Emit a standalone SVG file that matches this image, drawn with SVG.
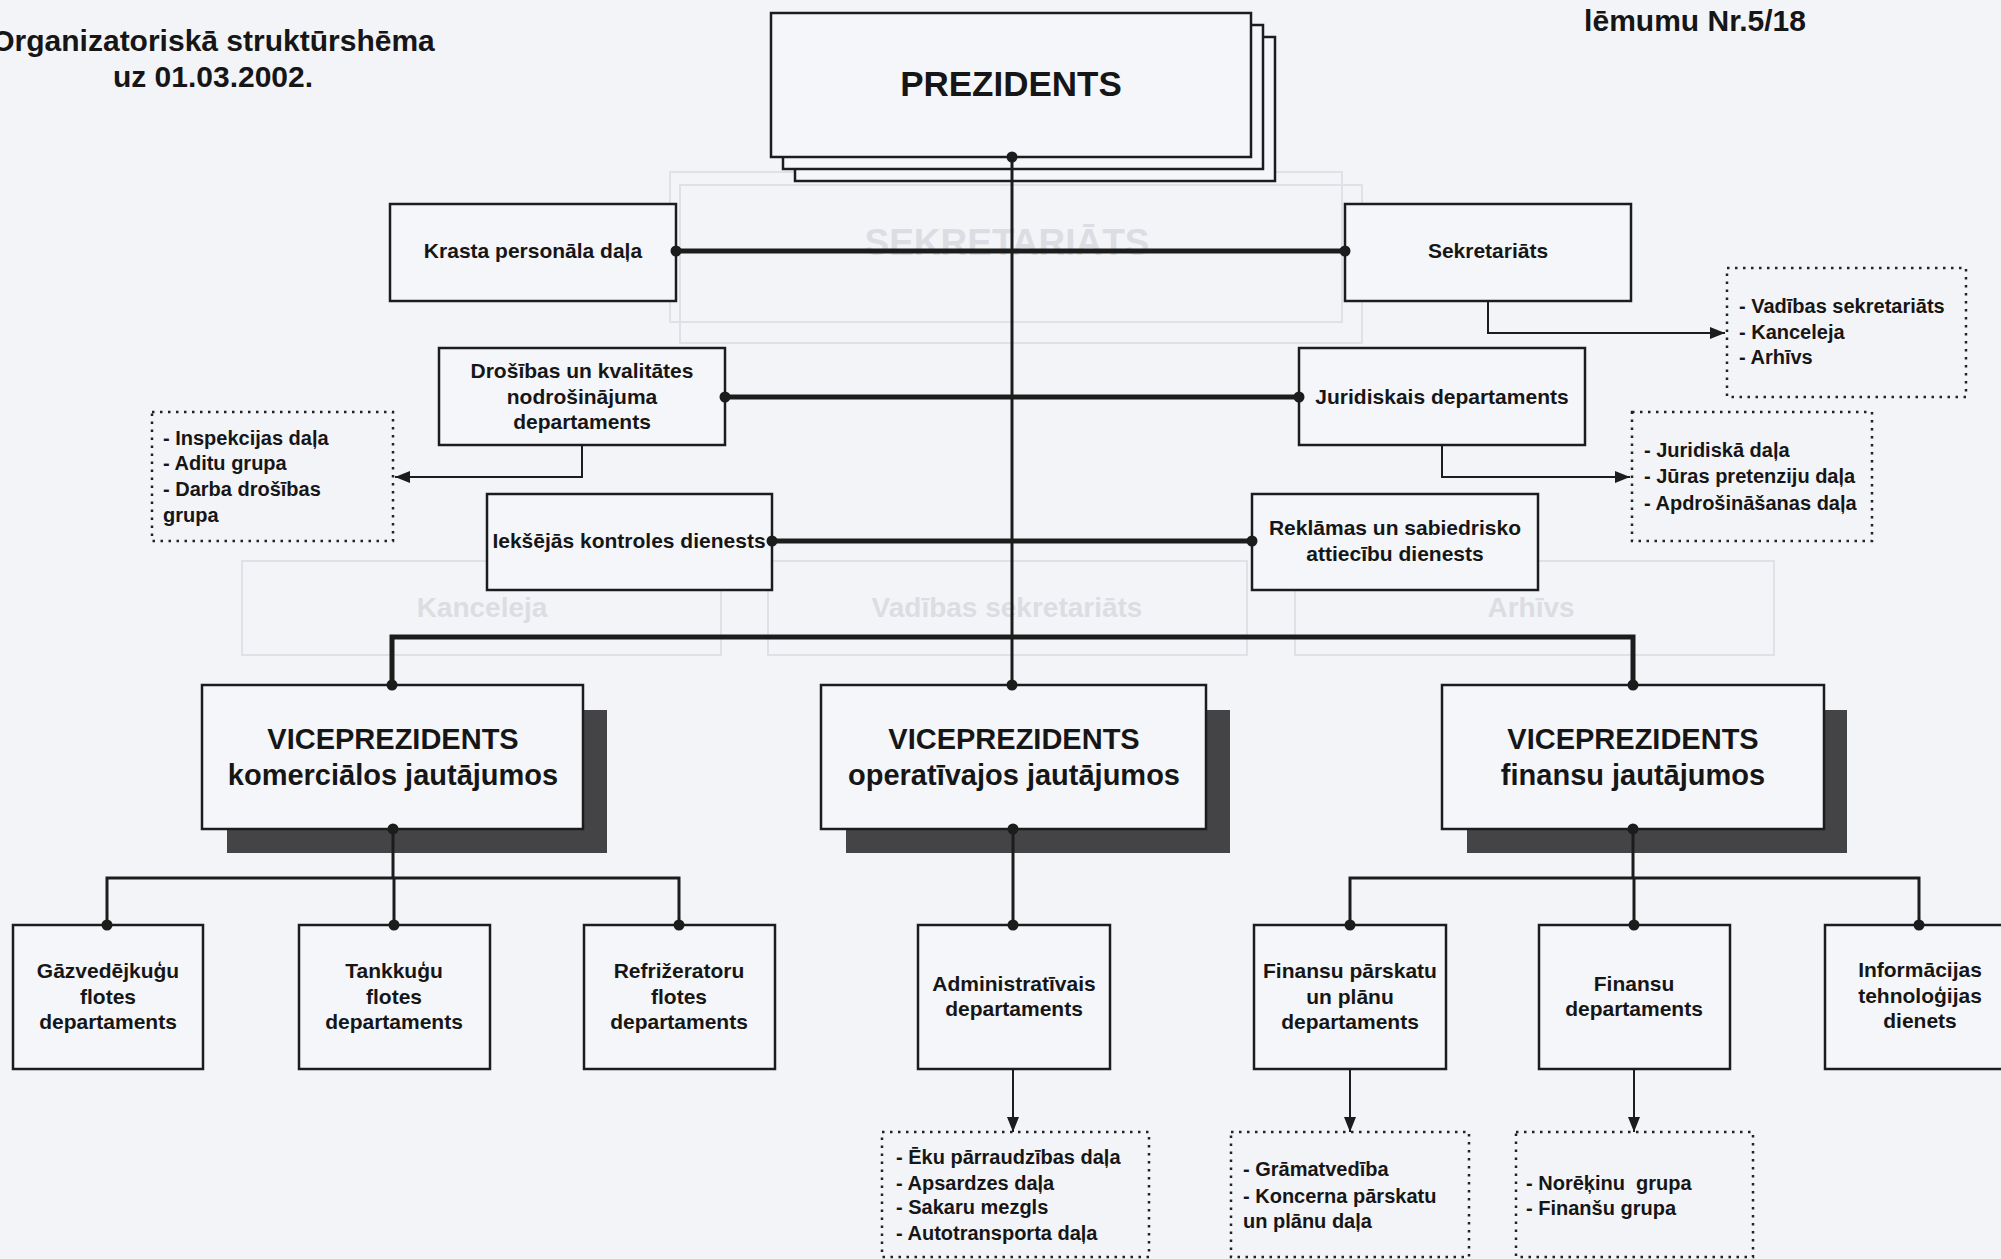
<svg xmlns="http://www.w3.org/2000/svg" width="2001" height="1259" viewBox="0 0 2001 1259">
<defs>
<style>
.bg{fill:#f3f4f8}
.box{fill:#f5f6fa;stroke:#1c1c1c;stroke-width:2.5}
.sh{fill:#444446}
.t{font-family:"Liberation Sans",Arial,sans-serif;font-weight:bold;fill:#161616}
.c{text-anchor:middle}
.f21{font-size:21px}
.f20{font-size:20px}
.f29{font-size:29px}
.dbox{fill:none;stroke:#222;stroke-width:2.5;stroke-dasharray:2.5 5.5}
.ln{stroke:#1c1c1c;fill:none}
.w5{stroke-width:5}
.w3{stroke-width:3}
.w2{stroke-width:2}
.dot{fill:#1c1c1c}
.gh{fill:none;stroke:#e0e1e6;stroke-width:2}
.ght{font-family:"Liberation Sans",Arial,sans-serif;font-weight:bold;fill:#dcdde2;text-anchor:middle}
</style>
<marker id="arr" viewBox="0 0 10 10" refX="10" refY="5" markerWidth="15" markerHeight="12" markerUnits="userSpaceOnUse" orient="auto" preserveAspectRatio="none">
<path d="M0,0 L10,5 L0,10 z" fill="#1c1c1c"/>
</marker>
</defs>
<rect class="bg" x="0" y="0" width="2001" height="1259"/>

<g id="show-through">
<rect class="gh" x="670" y="172" width="672" height="150"/>
<rect class="gh" x="680" y="185" width="682" height="158"/>
<text class="ght" x="1007" y="255" font-size="37">SEKRETARIĀTS</text>
<rect class="gh" x="242" y="561" width="479" height="94"/>
<rect class="gh" x="768" y="561" width="479" height="94"/>
<rect class="gh" x="1295" y="561" width="479" height="94"/>
<text class="ght" x="482" y="617" font-size="28">Kanceleja</text>
<text class="ght" x="1007" y="617" font-size="28">Vadības sekretariāts</text>
<text class="ght" x="1531" y="617" font-size="28">Arhīvs</text>
</g>

<g id="titles">
<text class="t c" x="213" y="51" font-size="30">Organizatoriskā struktūrshēma</text>
<text class="t c" x="213" y="87" font-size="30">uz 01.03.2002.</text>
<text class="t c" x="1695" y="31" font-size="30">lēmumu Nr.5/18</text>
</g>

<g id="prezidents">
<rect class="box" x="795" y="37" width="480" height="144"/>
<rect class="box" x="783" y="25" width="480" height="144"/>
<rect class="box" x="771" y="13" width="480" height="144"/>
<text class="t c" x="1011" y="96" font-size="35">PREZIDENTS</text>
</g>

<g id="krasta">
<rect class="box" x="390" y="204" width="286" height="97"/>
<text class="t c f21" x="533" y="258">Krasta personāla daļa</text>
</g>
<g id="sekretariats">
<rect class="box" x="1345" y="204" width="286" height="97"/>
<text class="t c f21" x="1488" y="258">Sekretariāts</text>
</g>
<g id="sekretariats-list">
<rect class="dbox" x="1727" y="268" width="239" height="129"/>
<text class="t f20" x="1739" y="313">- Vadības sekretariāts</text>
<text class="t f20" x="1739" y="339">- Kanceleja</text>
<text class="t f20" x="1739" y="364">- Arhīvs</text>
</g>

<g id="drosibas">
<rect class="box" x="439" y="348" width="286" height="97"/>
<text class="t c f21" x="582" y="378">Drošības un kvalitātes</text>
<text class="t c f21" x="582" y="404">nodrošinājuma</text>
<text class="t c f21" x="582" y="429">departaments</text>
</g>
<g id="drosibas-list">
<rect class="dbox" x="152" y="412" width="241" height="129"/>
<text class="t f20" x="163" y="445">- Inspekcijas daļa</text>
<text class="t f20" x="163" y="470">- Aditu grupa</text>
<text class="t f20" x="163" y="496">- Darba drošības</text>
<text class="t f20" x="163" y="522">grupa</text>
</g>

<g id="juridiskais">
<rect class="box" x="1299" y="348" width="286" height="97"/>
<text class="t c f21" x="1442" y="404">Juridiskais departaments</text>
</g>
<g id="juridiskais-list">
<rect class="dbox" x="1632" y="412" width="240" height="129"/>
<text class="t f20" x="1644" y="457">- Juridiskā daļa</text>
<text class="t f20" x="1644" y="483">- Jūras pretenziju daļa</text>
<text class="t f20" x="1644" y="510">- Apdrošināšanas daļa</text>
</g>

<g id="ieksejas">
<rect class="box" x="487" y="494" width="285" height="96"/>
<text class="t c f21" x="629" y="548">Iekšējās kontroles dienests</text>
</g>
<g id="reklamas">
<rect class="box" x="1252" y="494" width="286" height="96"/>
<text class="t c f21" x="1395" y="535">Reklāmas un sabiedrisko</text>
<text class="t c f21" x="1395" y="561">attiecību dienests</text>
</g>

<g id="vp-komercialos">
<rect class="sh" x="227" y="710" width="380" height="143"/>
<rect class="box" x="202" y="685" width="381" height="144"/>
<text class="t c f29" x="393" y="749">VICEPREZIDENTS</text>
<text class="t c f29" x="393" y="785">komerciālos jautājumos</text>
</g>
<g id="vp-operativajos">
<rect class="sh" x="846" y="710" width="384" height="143"/>
<rect class="box" x="821" y="685" width="385" height="144"/>
<text class="t c f29" x="1014" y="749">VICEPREZIDENTS</text>
<text class="t c f29" x="1014" y="785">operatīvajos jautājumos</text>
</g>
<g id="vp-finansu">
<rect class="sh" x="1467" y="710" width="380" height="143"/>
<rect class="box" x="1442" y="685" width="382" height="144"/>
<text class="t c f29" x="1633" y="749">VICEPREZIDENTS</text>
<text class="t c f29" x="1633" y="785">finansu jautājumos</text>
</g>

<g id="gazvedejkugu">
<rect class="box" x="13" y="925" width="190" height="144"/>
<text class="t c f21" x="108" y="978">Gāzvedējkuģu</text>
<text class="t c f21" x="108" y="1004">flotes</text>
<text class="t c f21" x="108" y="1029">departaments</text>
</g>
<g id="tankkugu">
<rect class="box" x="299" y="925" width="191" height="144"/>
<text class="t c f21" x="394" y="978">Tankkuģu</text>
<text class="t c f21" x="394" y="1004">flotes</text>
<text class="t c f21" x="394" y="1029">departaments</text>
</g>
<g id="refrizeratoru">
<rect class="box" x="584" y="925" width="191" height="144"/>
<text class="t c f21" x="679" y="978">Refrižeratoru</text>
<text class="t c f21" x="679" y="1004">flotes</text>
<text class="t c f21" x="679" y="1029">departaments</text>
</g>

<g id="administrativais">
<rect class="box" x="918" y="925" width="192" height="144"/>
<text class="t c f21" x="1014" y="991">Administratīvais</text>
<text class="t c f21" x="1014" y="1016">departaments</text>
</g>
<g id="administrativais-list">
<rect class="dbox" x="882" y="1132" width="267" height="125"/>
<text class="t f20" x="896" y="1164">- Ēku pārraudzības daļa</text>
<text class="t f20" x="896" y="1190">- Apsardzes daļa</text>
<text class="t f20" x="896" y="1214">- Sakaru mezgls</text>
<text class="t f20" x="896" y="1240">- Autotransporta daļa</text>
</g>

<g id="finansu-parskatu">
<rect class="box" x="1254" y="925" width="192" height="144"/>
<text class="t c f21" x="1350" y="978">Finansu pārskatu</text>
<text class="t c f21" x="1350" y="1004">un plānu</text>
<text class="t c f21" x="1350" y="1029">departaments</text>
</g>
<g id="finansu-parskatu-list">
<rect class="dbox" x="1231" y="1132" width="238" height="125"/>
<text class="t f20" x="1243" y="1176">- Grāmatvedība</text>
<text class="t f20" x="1243" y="1203">- Koncerna pārskatu</text>
<text class="t f20" x="1243" y="1228">un plānu daļa</text>
</g>

<g id="finansu-departaments">
<rect class="box" x="1539" y="925" width="191" height="144"/>
<text class="t c f21" x="1634" y="991">Finansu</text>
<text class="t c f21" x="1634" y="1016">departaments</text>
</g>
<g id="finansu-list">
<rect class="dbox" x="1516" y="1132" width="237" height="125"/>
<text class="t f20" x="1526" y="1190" xml:space="preserve">- Norēķinu  grupa</text>
<text class="t f20" x="1526" y="1215">- Finanšu grupa</text>
</g>

<g id="informacijas">
<rect class="box" x="1825" y="925" width="192" height="144"/>
<text class="t c f21" x="1920" y="977">Informācijas</text>
<text class="t c f21" x="1920" y="1003">tehnoloģijas</text>
<text class="t c f21" x="1920" y="1028">dienets</text>
</g>

<g id="connectors">
<line class="ln w3" x1="1012" y1="157" x2="1012" y2="685"/>
<line class="ln w5" x1="676" y1="251" x2="1345" y2="251"/>
<line class="ln w5" x1="725" y1="397" x2="1299" y2="397"/>
<line class="ln w5" x1="772" y1="541" x2="1252" y2="541"/>
<polyline class="ln w5" points="392,685 392,637 1633,637 1633,685"/>
<polyline class="ln w2" points="1488,301 1488,333 1725,333" marker-end="url(#arr)"/>
<polyline class="ln w2" points="582,445 582,477 395,477" marker-end="url(#arr)"/>
<polyline class="ln w2" points="1442,445 1442,477 1630,477" marker-end="url(#arr)"/>
<line class="ln w3" x1="393" y1="829" x2="393" y2="878"/>
<polyline class="ln w3" points="107,925 107,878 679,878 679,925"/>
<line class="ln w3" x1="394" y1="878" x2="394" y2="925"/>
<line class="ln w3" x1="1013" y1="829" x2="1013" y2="925"/>
<line class="ln w2" x1="1013" y1="1069" x2="1013" y2="1132" marker-end="url(#arr)"/>
<line class="ln w3" x1="1633" y1="829" x2="1633" y2="878"/>
<polyline class="ln w3" points="1350,925 1350,878 1919,878 1919,925"/>
<line class="ln w3" x1="1634" y1="878" x2="1634" y2="925"/>
<line class="ln w2" x1="1350" y1="1069" x2="1350" y2="1132" marker-end="url(#arr)"/>
<line class="ln w2" x1="1634" y1="1069" x2="1634" y2="1132" marker-end="url(#arr)"/>
<circle class="dot" cx="1012" cy="157" r="5.5"/>
<circle class="dot" cx="676" cy="251" r="5.5"/>
<circle class="dot" cx="1345" cy="251" r="5.5"/>
<circle class="dot" cx="725" cy="397" r="5.5"/>
<circle class="dot" cx="1299" cy="397" r="5.5"/>
<circle class="dot" cx="772" cy="541" r="5.5"/>
<circle class="dot" cx="1252" cy="541" r="5.5"/>
<circle class="dot" cx="392" cy="685" r="5.5"/>
<circle class="dot" cx="1012" cy="685" r="5.5"/>
<circle class="dot" cx="1633" cy="685" r="5.5"/>
<circle class="dot" cx="393" cy="829" r="5.5"/>
<circle class="dot" cx="1013" cy="829" r="5.5"/>
<circle class="dot" cx="1633" cy="829" r="5.5"/>
<circle class="dot" cx="107" cy="925" r="5.5"/>
<circle class="dot" cx="394" cy="925" r="5.5"/>
<circle class="dot" cx="679" cy="925" r="5.5"/>
<circle class="dot" cx="1013" cy="925" r="5.5"/>
<circle class="dot" cx="1350" cy="925" r="5.5"/>
<circle class="dot" cx="1634" cy="925" r="5.5"/>
<circle class="dot" cx="1919" cy="925" r="5.5"/>
</g>
</svg>
